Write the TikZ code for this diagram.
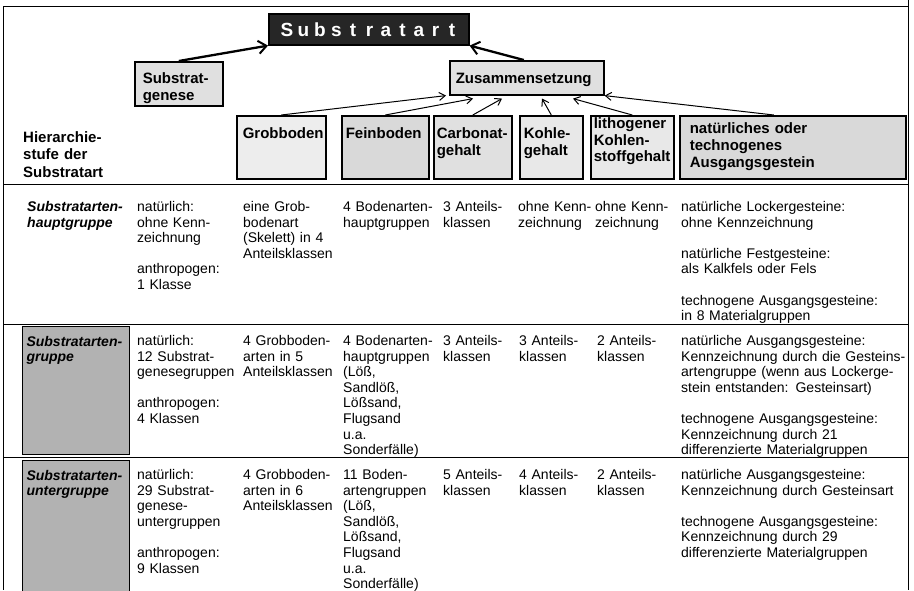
\documentclass[tikz,border=0pt]{standalone}
\usepackage{fontspec}
\setmainfont{Liberation Sans}
\usetikzlibrary{arrows.meta}

\begin{document}
\begin{tikzpicture}[x=1pt,y=-1pt,
  rule/.style={line width=1pt},
  body/.style={anchor=base west, inner sep=0pt, align=left, text width=232pt,
    font=\fontsize{14}{15.6}\selectfont},
  rowname/.style={body, font=\fontsize{14}{15.6}\selectfont\bfseries\itshape},
  headtext/.style={anchor=base west, inner sep=0pt, align=left, text width=120pt,
    font=\fontsize{15}{17.5}\selectfont\bfseries},
  hbox/.style={draw, line width=1.6pt, fill=black!12, anchor=north west,
    inner ysep=0pt, align=left, font=\fontsize{15}{17}\selectfont\bfseries},
  rowbox/.style={draw, line width=1.1pt, fill=black!30, anchor=north west,
    inner xsep=4pt, inner ysep=0pt, align=left,
    font=\fontsize{14}{15.6}\selectfont\bfseries\itshape},
  letter/.style={anchor=base, inner sep=0pt, text=white,
    font=\fontsize{19}{19}\selectfont\bfseries},
  bigarrow/.style={line width=2.3pt,
    -{Straight Barb[length=8pt,width=13pt,line width=2pt]}},
  smallarrow/.style={line width=1pt, -{Straight Barb[length=6pt,width=8pt]}}
]
\useasboundingbox (0,0) rectangle (914,590);

% frame and row rules
\draw[rule] (3,6) -- (908,6);
\draw[rule] (3,6) -- (3,590);
\draw[rule] (908,0) -- (908,590);
\draw[rule] (3,184) -- (908,184);
\draw[rule] (3,324) -- (908,324);
\draw[rule] (3,457.5) -- (908,457.5);

% title box
\node[draw, line width=1.6pt, fill=black!85, anchor=north west, inner sep=0pt,
      minimum width=200pt, minimum height=31pt] (sa) at (268,13) {};
\foreach \ch [count=\i from 0] in {S,u,b,s,t,r,a,t,a,r,t}
  \node[letter] (sl\i) at ({287+16.5*\i},36.5) {\ch};

% second level
\node[hbox, inner xsep=8pt, text width=72pt, text height=22pt, text depth=22pt]
  (sg) at (134,61) {Substrat-\\genese};
\node[hbox, inner xsep=6pt, text width=142pt, text height=23pt, text depth=11pt]
  (zs) at (449,60) {Zusammensetzung};

% third level
\node[hbox, fill=black!7, inner xsep=6pt, text width=77pt, text height=23pt, text depth=40pt]
  (gb) at (236,115) {Grobboden};
\node[hbox, fill=black!15, inner xsep=4pt, text width=79pt, text height=23pt, text depth=40pt]
  (fb) at (341,115) {Feinboden};
\node[hbox, inner xsep=3pt, text width=72pt, text height=23pt, text depth=40pt]
  (cg) at (433,115) {Carbonat-\\gehalt};
\node[hbox, fill=black!9, inner xsep=4pt, text width=55pt, text height=23pt, text depth=40pt]
  (kg) at (519,115) {Kohle-\\gehalt};
\node[hbox, fill=black!9, inner xsep=3pt, text width=77pt, text height=13pt, text depth=50pt,
      font=\fontsize{15}{16.5}\selectfont\bfseries]
  (lk) at (590,115) {lithogener\\Kohlen-\\stoffgehalt};
\node[hbox, fill=black!15, inner xsep=10pt, text width=206pt, text height=18pt, text depth=45pt]
  (na) at (679,115) {natürliches oder\\technogenes\\Ausgangsgestein};

\node[headtext] (hs) at (23,142) {Hierarchie-\\stufe der\\Substratart};

% connectors
\draw[bigarrow] (sg.north) -- (sa.south west);
\draw[bigarrow] ([xshift=-3pt]zs.north) -- (sa.south east);
\draw[smallarrow] (gb.north) -- ([xshift=-3pt]zs.south west);
\draw[smallarrow] (fb.north) -- ([xshift=24pt,yshift=-3pt]zs.south west);
\draw[smallarrow] (cg.north) -- ([xshift=53pt,yshift=-3pt]zs.south west);
\draw[smallarrow] (kg.north) -- ([xshift=93pt,yshift=-3pt]zs.south west);
\draw[smallarrow] (lk.north) -- ([xshift=124pt,yshift=-3pt]zs.south west);
\draw[smallarrow] ([xshift=-19pt]na.north) -- (zs.south east);

% row 1
\node[rowname] (r1c0) at (27,211.5) {Substratarten-\\hauptgruppe};
\node[body] (r1c1) at (137,211.5) {natürlich:\\ohne Kenn-\\zeichnung\\[15.6pt]anthropogen:\\1 Klasse};
\node[body] (r1c2) at (243,211.5) {eine Grob-\\bodenart\\(Skelett) in 4\\Anteilsklassen};
\node[body] (r1c3) at (343,211.5) {4 Bodenarten-\\hauptgruppen};
\node[body] (r1c4) at (443,211.5) {3 Anteils-\\klassen};
\node[body] (r1c5) at (518,211.5) {ohne Kenn-\\zeichnung};
\node[body] (r1c6) at (595,211.5) {ohne Kenn-\\zeichnung};
\node[body] (r1c7) at (681,211.5) {natürliche Lockergesteine:\\ohne Kennzeichnung\\[15.6pt]natürliche Festgesteine:\\als Kalkfels oder Fels\\[15.6pt]technogene Ausgangsgesteine:\\in 8 Materialgruppen};

% row 2
\node[rowbox, text width=99pt, text height=19.5pt, text depth=108.5pt]
  (r2c0) at (22,326) {Substratarten-\\gruppe};
\node[body] (r2c1) at (137,345.5) {natürlich:\\12 Substrat-\\genesegruppen\\[15.6pt]anthropogen:\\4 Klassen};
\node[body] (r2c2) at (243,345.5) {4 Grobboden-\\arten in 5\\Anteilsklassen};
\node[body] (r2c3) at (343,345.5) {4 Bodenarten-\\hauptgruppen\\(Löß,\\Sandlöß,\\Lößsand,\\Flugsand\\u.a.\\Sonderfälle)};
\node[body] (r2c4) at (443,345.5) {3 Anteils-\\klassen};
\node[body] (r2c5) at (519,345.5) {3 Anteils-\\klassen};
\node[body] (r2c6) at (597,345.5) {2 Anteils-\\klassen};
\node[body] (r2c7) at (681,345.5) {natürliche Ausgangsgesteine:\\Kennzeichnung durch die Gesteins-\\artengruppe (wenn aus Lockerge-\\stein entstanden: Gesteinsart)\\[15.6pt]technogene Ausgangsgesteine:\\Kennzeichnung durch 21\\differenzierte Materialgruppen};

% row 3
\node[rowbox, text width=99pt, text height=19.5pt, text depth=115pt]
  (r3c0) at (22,460) {Substratarten-\\untergruppe};
\node[body] (r3c1) at (137,479.5) {natürlich:\\29 Substrat-\\genese-\\untergruppen\\[15.6pt]anthropogen:\\9 Klassen};
\node[body] (r3c2) at (243,479.5) {4 Grobboden-\\arten in 6\\Anteilsklassen};
\node[body] (r3c3) at (343,479.5) {11 Boden-\\artengruppen\\(Löß,\\Sandlöß,\\Lößsand,\\Flugsand\\u.a.\\Sonderfälle)};
\node[body] (r3c4) at (443,479.5) {5 Anteils-\\klassen};
\node[body] (r3c5) at (519,479.5) {4 Anteils-\\klassen};
\node[body] (r3c6) at (597,479.5) {2 Anteils-\\klassen};
\node[body] (r3c7) at (681,479.5) {natürliche Ausgangsgesteine:\\Kennzeichnung durch Gesteinsart\\[15.6pt]technogene Ausgangsgesteine:\\Kennzeichnung durch 29\\differenzierte Materialgruppen};
\end{tikzpicture}
\end{document}
